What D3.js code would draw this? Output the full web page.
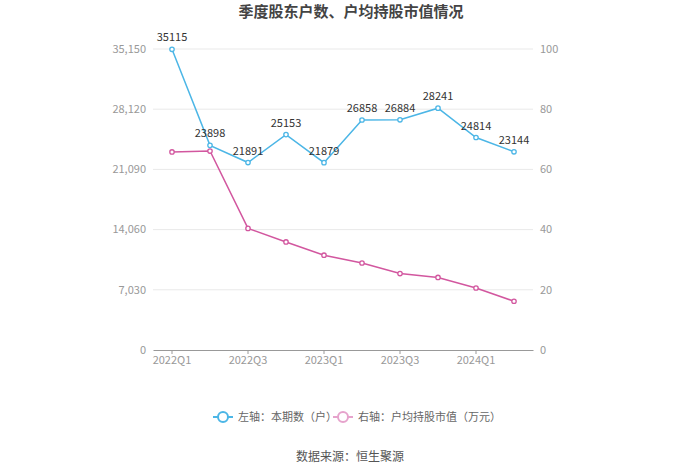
<!DOCTYPE html>
<html><head><meta charset="utf-8">
<script src="https://cdn.jsdelivr.net/npm/d3@7"></script>
<style>body{margin:0;background:#fff;}svg{display:block;font-family:"Microsoft YaHei","Noto Sans CJK SC",sans-serif;}</style>
</head><body><svg id="c" width="700" height="474"></svg>
<script>
const categories = ["2022Q1","2022Q2","2022Q3","2022Q4","2023Q1","2023Q2","2023Q3","2023Q4","2024Q1","2024Q2"];
const holders = [35115,23898,21891,25153,21879,26858,26884,28241,24814,23144];
const avgValue = [65.8,66.1,40.4,35.9,31.5,28.9,25.4,24.1,20.6,16.2];
const leftTicks = [0,7030,14060,21090,28120,35150];
const rightTicks = [0,20,40,60,80,100];
const xTickLabels = ["2022Q1","2022Q3","2023Q1","2023Q3","2024Q1"];

const blue = "#4cb6e6", pink = "#d2579f";
const svg = d3.select("#c");
const L = 153, R = 533, T = 49, B = 350;
const x = d3.scaleBand().domain(categories).range([L, R]);
const yl = d3.scaleLinear().domain([0, 35150]).range([B, T]);
const yr = d3.scaleLinear().domain([0, 100]).range([B, T]);
const cx = d => x(d) + x.bandwidth()/2;

svg.append("text").attr("x", 351).attr("y", 17).attr("text-anchor","middle")
  .attr("font-size", 15).attr("font-weight","bold").attr("fill","#444").text("季度股东户数、户均持股市值情况");

// grid
svg.append("g").selectAll("line").data(leftTicks.slice(1)).join("line")
  .attr("x1", L).attr("x2", R).attr("y1", d=>yl(d)).attr("y2", d=>yl(d))
  .attr("stroke","#e9e9e9");

// left labels
svg.append("g").selectAll("text").data(leftTicks).join("text")
  .attr("x", 146).attr("y", d=>yl(d)).attr("dy","0.35em").attr("text-anchor","end")
  .attr("font-size",11).attr("fill","#999").text(d=>d3.format(",")(d));
svg.append("g").selectAll("text").data(rightTicks).join("text")
  .attr("x", 540).attr("y", d=>yr(d)).attr("dy","0.35em").attr("text-anchor","start")
  .attr("font-size",11).attr("fill","#999").text(d=>d);

// x axis
const xa = d3.axisBottom(x).tickValues(xTickLabels).tickSize(4).tickSizeOuter(0);
const gx = svg.append("g").attr("transform",`translate(0,${B})`).call(xa);
gx.select(".domain").attr("stroke","#999");
gx.selectAll(".tick line").attr("stroke","#999");
gx.selectAll(".tick text").attr("font-size",11).attr("fill","#999").attr("dy","0.6em")
  .attr("font-family",'"Microsoft YaHei","Noto Sans CJK SC",sans-serif');

// pink line
const lp = d3.line().x((d,i)=>cx(categories[i])).y(d=>yr(d));
svg.append("path").datum(avgValue).attr("d", lp).attr("fill","none").attr("stroke",pink).attr("stroke-width",1.5);
svg.append("g").selectAll("circle").data(avgValue).join("circle")
  .attr("cx",(d,i)=>cx(categories[i])).attr("cy",d=>yr(d)).attr("r",2.2)
  .attr("fill","#fff").attr("stroke",pink).attr("stroke-width",1.3);

// blue line
const lb = d3.line().x((d,i)=>cx(categories[i])).y(d=>yl(d));
svg.append("path").datum(holders).attr("d", lb).attr("fill","none").attr("stroke",blue).attr("stroke-width",1.5);
svg.append("g").selectAll("circle").data(holders).join("circle")
  .attr("cx",(d,i)=>cx(categories[i])).attr("cy",d=>yl(d)).attr("r",2.2)
  .attr("fill","#fff").attr("stroke",blue).attr("stroke-width",1.3);
svg.append("g").selectAll("text").data(holders).join("text")
  .attr("x",(d,i)=>cx(categories[i])).attr("y",d=>yl(d)-8).attr("text-anchor","middle")
  .attr("font-size",11).attr("fill","#333").text(d=>d);

// legend
const lg = svg.append("g");
[[213, blue, "左轴：本期数（户）"], [333, "#e6a3cc", "右轴：户均持股市值（万元）"]].forEach(([lx,c,t])=>{
  lg.append("line").attr("x1",lx).attr("x2",lx+20).attr("y1",417).attr("y2",417).attr("stroke",c).attr("stroke-width",2);
  lg.append("circle").attr("cx",lx+10).attr("cy",417).attr("r",5).attr("fill","#fff").attr("stroke",c).attr("stroke-width",2);
  lg.append("text").attr("x",lx+25).attr("y",417).attr("dy","0.35em").attr("font-size",11).attr("fill","#666").text(t);
});

svg.append("text").attr("x",350).attr("y",457).attr("dy","0.35em").attr("text-anchor","middle")
  .attr("font-size",12).attr("fill","#555").text("数据来源：恒生聚源");
</script></body></html>
